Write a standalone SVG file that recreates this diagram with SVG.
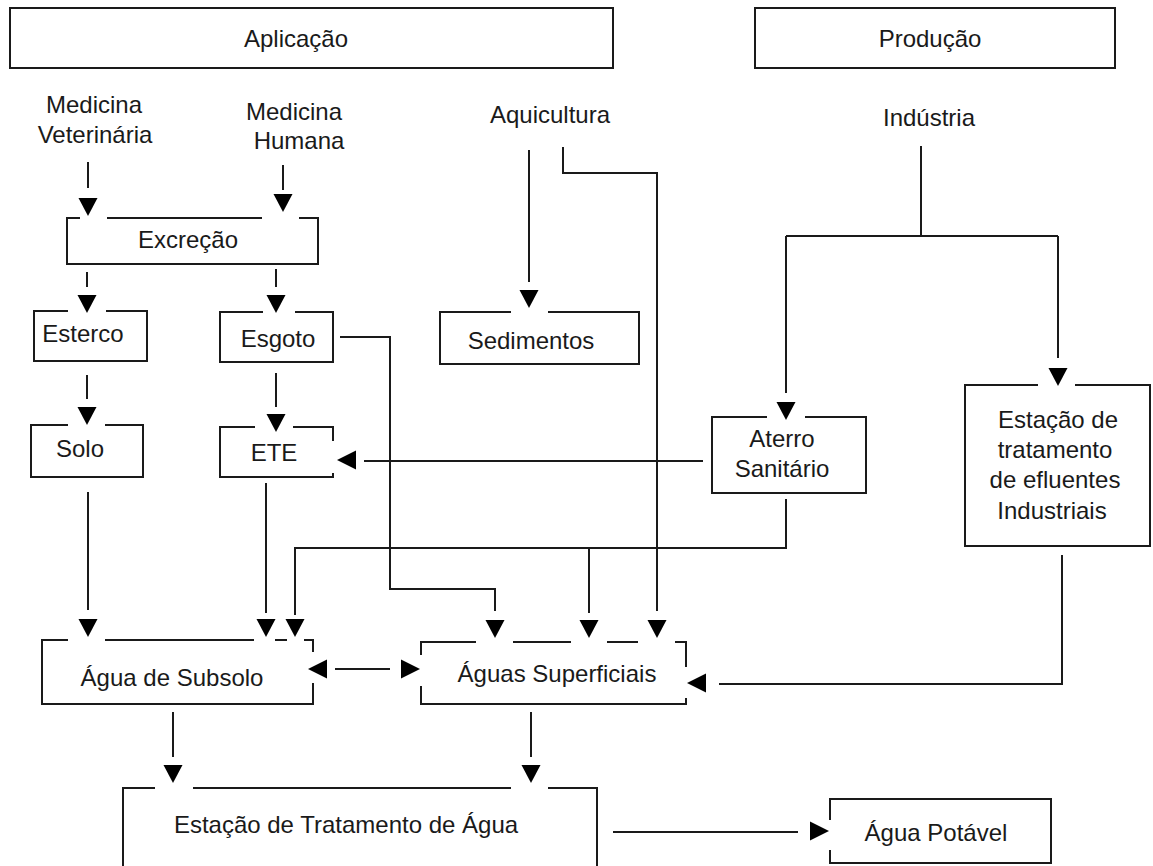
<svg xmlns="http://www.w3.org/2000/svg" xmlns:xlink="http://www.w3.org/1999/xlink" width="1153" height="866" viewBox="0 0 1153 866">
<style>
.b{fill:none;stroke:#1a1a1a;stroke-width:2}
.c{fill:none;stroke:#1a1a1a;stroke-width:2}
.h{fill:#000}
.t{font-family:"Liberation Sans",Arial,sans-serif;font-size:24px;fill:#1a1a1a;text-anchor:middle}
</style>
<defs>
<path id="ad" d="M0,0 L-9.5,-18 L9.5,-18 Z"/>
<path id="al" d="M0,0 L19,-9.5 L19,9.5 Z"/>
<path id="ar" d="M0,0 L-19,-9.5 L-19,9.5 Z"/>
</defs>
<rect width="1153" height="866" fill="#fff"/>
<g id="aplicacao"><rect class="b" x="10" y="8" width="603" height="60"/><text class="t" x="296" y="47">Aplicação</text></g>
<g id="producao"><rect class="b" x="755" y="8" width="360" height="60"/><text class="t" x="930" y="47">Produção</text></g>
<g id="med-vet"><text class="t" x="94" y="113">Medicina</text><text class="t" x="95" y="143">Veterinária</text></g>
<g id="med-hum"><text class="t" x="294" y="120">Medicina</text><text class="t" x="299" y="149">Humana</text></g>
<g id="aquicultura"><text class="t" x="550" y="123">Aquicultura</text></g>
<g id="industria"><text class="t" x="929" y="126">Indústria</text></g>
<g id="excrecao"><path class="b" d="M80,218 H67 V264 H318 V218 H299 M107,218 H262"/><text class="t" x="188" y="248">Excreção</text></g>
<g id="esterco"><path class="b" d="M68,311 H34 V361 H147 V311 H106"/><text class="t" x="83" y="342">Esterco</text></g>
<g id="esgoto"><path class="b" d="M263,312 H220 V362 H333 V312 H295"/><text class="t" x="278" y="347">Esgoto</text></g>
<g id="sedimentos"><path class="b" d="M511,312 H440 V364 H639 V312 H548"/><text class="t" x="531" y="349">Sedimentos</text></g>
<g id="solo"><path class="b" d="M68,425 H31 V477 H143 V425 H105"/><text class="t" x="80" y="457">Solo</text></g>
<g id="ete"><path class="b" d="M255,427 H220 V477 H333 V473 M333,441 V427 H293"/><text class="t" x="274" y="461">ETE</text></g>
<g id="aterro"><path class="b" d="M767,417 H712 V493 H866 V417 H805"/><text class="t" x="782" y="447">Aterro</text><text class="t" x="782" y="477">Sanitário</text></g>
<g id="efluentes"><path class="b" d="M1038,385 H965 V546 H1150 V385 H1075"/><text class="t" x="1058" y="428">Estação de</text><text class="t" x="1055" y="458">tratamento</text><text class="t" x="1055" y="488">de efluentes</text><text class="t" x="1052" y="519">Industriais</text></g>
<g id="agua-subsolo"><path class="b" d="M68,640 H42 V704 H313 V683 M313,652 V640 H304 M287,640 H275 M254,640 H105"/><text class="t" x="172" y="686">Água de Subsolo</text></g>
<g id="aguas-superficiais"><path class="b" d="M476,642 H421 V655 M421,686 V704 H686 V698 M686,667 V642 H675 M638,642 H607 M571,642 H513"/><text class="t" x="557" y="682">Águas Superficiais</text></g>
<g id="estacao-agua"><path class="b" d="M155,788 H123 V870 M193,788 H511 M548,788 H597 V870"/><text class="t" x="346" y="833">Estação de Tratamento de Água</text></g>
<g id="agua-potavel"><path class="b" d="M830,820 V799 H1051 V863 H830 V850"/><text class="t" x="936" y="841">Água Potável</text></g>
<g id="connectors">
<path class="c" d="M88,162 V188 M283,165 V190 M87,272 V287 M276,269 V287 M87,375 V399 M276,373 V407 M529,150 V282 M563,147 V173 H657 V611 M921,146 V236 M786,236 H1058 M786,236 V393 M1058,236 V358 M703,461 H364 M786,499 V548 H295 V615 M589,548 V613 M340,337 H390 V589 H495 V611 M266,483 V613 M88,492 V610 M335,669 H390 M1062,555 V684 H719 M173,712 V757 M531,712 V757 M613,832 H798"/>
<g class="h">
<use xlink:href="#ad" x="88" y="216"/>
<use xlink:href="#ad" x="283" y="212"/>
<use xlink:href="#ad" x="87" y="313"/>
<use xlink:href="#ad" x="276" y="313"/>
<use xlink:href="#ad" x="87" y="425"/>
<use xlink:href="#ad" x="276" y="432"/>
<use xlink:href="#ad" x="529" y="308"/>
<use xlink:href="#ad" x="786" y="420"/>
<use xlink:href="#ad" x="1058" y="386"/>
<use xlink:href="#ad" x="88" y="637"/>
<use xlink:href="#ad" x="266" y="637"/>
<use xlink:href="#ad" x="295" y="637"/>
<use xlink:href="#ad" x="495" y="638"/>
<use xlink:href="#ad" x="589" y="638"/>
<use xlink:href="#ad" x="657" y="638"/>
<use xlink:href="#ad" x="173" y="783"/>
<use xlink:href="#ad" x="531" y="783"/>
<use xlink:href="#al" x="337" y="460"/>
<use xlink:href="#al" x="308" y="669"/>
<use xlink:href="#ar" x="420" y="669"/>
<use xlink:href="#al" x="687" y="683"/>
<use xlink:href="#ar" x="829" y="831"/>
</g>
</g>
</svg>
